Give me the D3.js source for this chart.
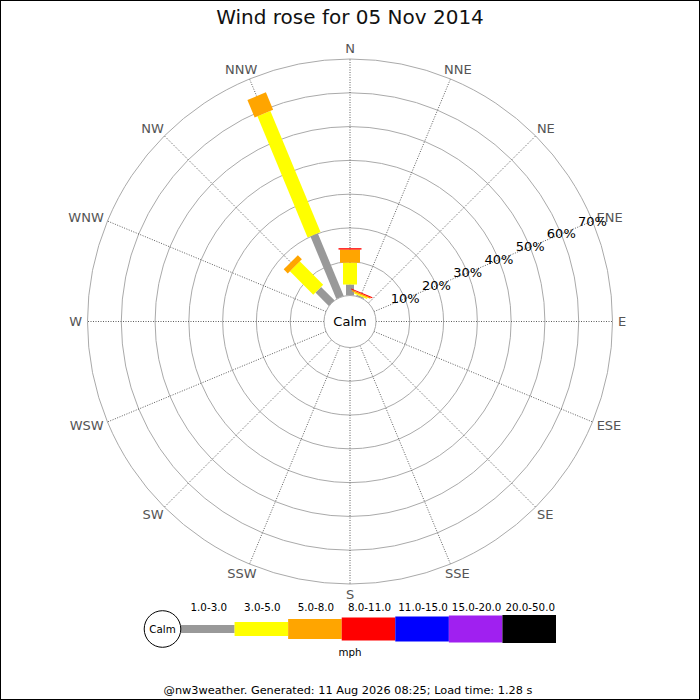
<!DOCTYPE html>
<html>
<head>
<meta charset="utf-8">
<script src="https://cdn.jsdelivr.net/npm/d3@7"></script>
<style>
  body { margin: 0; background: #fff; }
  svg { display: block; font-family: "DejaVu Sans", sans-serif; }
</style>
</head>
<body>
<svg id="rose" width="700" height="700"></svg>
<script>
// Wind rose chart

const directions = ['N', 'NNE', 'NE', 'ENE', 'E', 'ESE', 'SE', 'SSE',
  'S', 'SSW', 'SW', 'WSW', 'W', 'WNW', 'NW', 'NNW'];

const speedBins = ['1.0-3.0', '3.0-5.0', '5.0-8.0', '8.0-11.0', '11.0-15.0', '15.0-20.0', '20.0-50.0'];
const binColors = ['#999999', '#ffff00', '#ffa500', '#ff0000', '#0000ff', '#a020f0', '#000000'];

// percent of observations per speed bin, for each direction that had wind
const freqN = [3.25, 6.45, 3.9, 0.4, 0, 0, 0];
const freqNNE = [0.4, 0.4, 0.4, 0.3, 0, 0, 0];
const freqNW = [5.6, 9.8, 1.7, 0, 0, 0, 0];
const freqNNW = [20.1, 38.8, 5.6, 0, 0, 0, 0];

const ringTicks = [10, 20, 30, 40, 50, 60, 70];

const title = 'Wind rose for 05 Nov 2014';
const footer = '@nw3weather. Generated: 11 Aug 2026 08:25; Load time: 1.28 s';

const freqByDir = { N: freqN, NNE: freqNNE, NW: freqNW, NNW: freqNNW };

const svg = d3.select('#rose');
const width = 700, height = 700;
const cx = 350, cy = 321.5;

// band widths grow with the speed bin
const barWidth = d3.scaleOrdinal().domain(speedBins).range([8, 14, 20, 23, 25, 27, 28]);
const color = d3.scaleOrdinal().domain(speedBins).range(binColors);

const rScale = d3.scaleLinear().domain([0, 70]).range([26, 262.5]);
const angle = d3.scalePoint().domain(directions).range([0, 337.5]);

svg.append('rect')
  .attr('x', 0.5).attr('y', 0.5)
  .attr('width', width - 1).attr('height', height - 1)
  .attr('fill', '#fff').attr('stroke', '#000');

svg.append('text')
  .attr('x', cx).attr('y', 24)
  .attr('text-anchor', 'middle')
  .attr('font-size', '20px')
  .attr('fill', '#111')
  .text(title);

const plot = svg.append('g').attr('transform', `translate(${cx},${cy})`);

// Rings
plot.selectAll('circle.ring')
  .data(ringTicks)
  .enter().append('circle')
  .attr('class', 'ring')
  .attr('r', d => rScale(d))
  .attr('fill', 'none')
  .attr('stroke', '#aaa')
  .attr('stroke-width', 1);

// Spokes
const rad = d => angle(d) * Math.PI / 180;
plot.selectAll('line.spoke')
  .data(directions)
  .enter().append('line')
  .attr('class', 'spoke')
  .attr('x1', d => rScale(0) * Math.sin(rad(d)))
  .attr('y1', d => -rScale(0) * Math.cos(rad(d)))
  .attr('x2', d => rScale(70) * Math.sin(rad(d)))
  .attr('y2', d => -rScale(70) * Math.cos(rad(d)))
  .attr('stroke', '#333')
  .attr('stroke-width', 0.8)
  .attr('stroke-dasharray', '1,1.5');

// Direction labels: pushed outward so the text box sits just off the ring
const labelR = 268;
plot.selectAll('text.dir')
  .data(directions)
  .enter().append('text')
  .attr('class', 'dir')
  .attr('text-anchor', 'middle')
  .attr('dominant-baseline', 'central')
  .attr('font-size', '13px')
  .attr('fill', '#555')
  .text(d => d)
  .each(function(d) {
    const w = this.getComputedTextLength();
    const s = Math.sin(rad(d)), c = Math.cos(rad(d));
    d3.select(this)
      .attr('x', labelR * s + s * w / 2)
      .attr('y', -labelR * c - c * 4.7);
  });

// Stacked bars
directions.forEach(dir => {
  const freqs = freqByDir[dir];
  if (!freqs) return;
  const g = plot.append('g').attr('transform', `rotate(${angle(dir)})`);
  let acc = 0;
  freqs.forEach((v, i) => {
    if (v <= 0) return;
    const inner = rScale(acc);
    acc += v;
    const outer = rScale(acc);
    const bin = speedBins[i];
    g.append('rect')
      .attr('x', -barWidth(bin) / 2)
      .attr('y', -outer)
      .attr('width', barWidth(bin))
      .attr('height', outer - inner)
      .attr('fill', color(bin));
  });
});

// Calm circle
plot.append('circle')
  .attr('r', rScale(0))
  .attr('fill', '#fff')
  .attr('stroke', '#aaa');

plot.append('text')
  .attr('x', 0).attr('y', 0)
  .attr('text-anchor', 'middle')
  .attr('dominant-baseline', 'central')
  .attr('font-size', '13px')
  .attr('fill', '#000')
  .text('Calm');

// Percent labels along ENE
const labelRad = rad('ENE');
plot.selectAll('text.pct')
  .data(ringTicks)
  .enter().append('text')
  .attr('class', 'pct')
  .attr('x', d => rScale(d) * Math.sin(labelRad))
  .attr('y', d => -rScale(d) * Math.cos(labelRad))
  .attr('text-anchor', 'middle')
  .attr('dominant-baseline', 'central')
  .attr('font-size', '13px')
  .attr('fill', '#000')
  .text(d => d + '%');

// Legend
const legendY = 629;
const legendX = d3.scaleBand().domain(speedBins).range([181, 556]);
const legend = svg.append('g').attr('class', 'legend');

legend.selectAll('rect')
  .data(speedBins)
  .enter().append('rect')
  .attr('x', d => legendX(d))
  .attr('y', d => legendY - barWidth(d) / 2)
  .attr('width', legendX.bandwidth())
  .attr('height', d => barWidth(d))
  .attr('fill', d => color(d));

legend.selectAll('text.bin')
  .data(speedBins)
  .enter().append('text')
  .attr('class', 'bin')
  .attr('x', d => legendX(d) + legendX.bandwidth() / 2 + 1)
  .attr('y', 611)
  .attr('text-anchor', 'middle')
  .attr('font-size', '10.3px')
  .attr('fill', '#000')
  .text(d => d);

legend.append('circle')
  .attr('cx', 162.5).attr('cy', legendY)
  .attr('r', 18.3)
  .attr('fill', '#fff')
  .attr('stroke', '#000');

legend.append('text')
  .attr('x', 162.5).attr('y', legendY)
  .attr('text-anchor', 'middle')
  .attr('dominant-baseline', 'central')
  .attr('font-size', '10.3px')
  .text('Calm');

legend.append('text')
  .attr('x', 350).attr('y', 656)
  .attr('text-anchor', 'middle')
  .attr('font-size', '10.3px')
  .text('mph');

svg.append('text')
  .attr('x', 348).attr('y', 694)
  .attr('text-anchor', 'middle')
  .attr('font-size', '11.3px')
  .attr('fill', '#000')
  .text(footer);
</script>
</body>
</html>
